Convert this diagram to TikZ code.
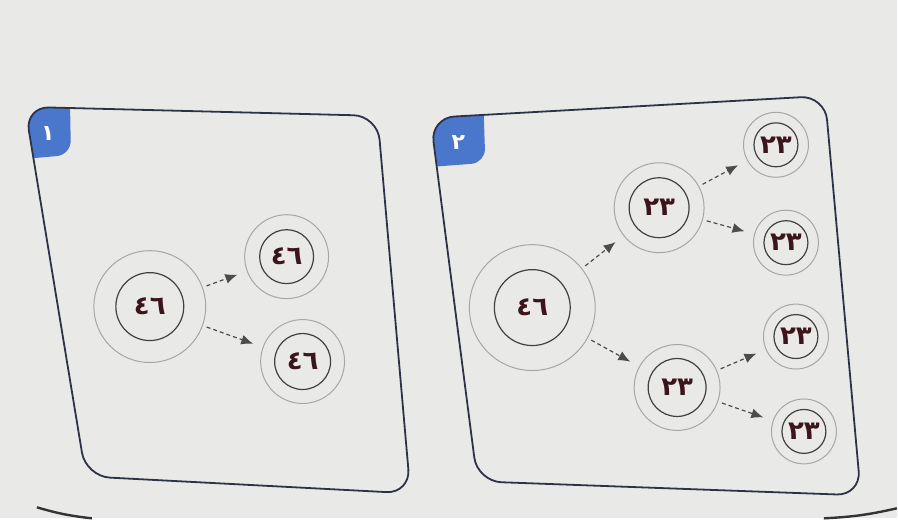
\documentclass[tikz,border=0pt]{standalone}
\usepackage{fontspec}
\setmainfont{DejaVu Sans}
\newfontfamily\arabicfont[Script=Arabic]{DejaVu Sans}
\usetikzlibrary{arrows.meta}

\definecolor{bgpaper}{RGB}{233,234,231}
\definecolor{tabblue}{RGB}{74,118,204}
\definecolor{boxline}{RGB}{45,50,70}
\definecolor{digitred}{RGB}{60,20,28}

\begin{document}
\begin{tikzpicture}[
      x=0.5pt, y=-0.5pt, % one unit = one pixel of the page photo
      outer ring/.style={circle, draw=gray!70, line width=0.5pt, inner sep=0pt},
      inner ring/.style={circle, draw=black!75, line width=0.6pt, inner sep=0pt,
                         text=digitred, font=\arabicfont\bfseries\fontsize{13}{15}\selectfont},
      split arrow/.style={draw=black!70, line width=0.6pt, dash pattern=on 2pt off 1.5pt,
                          -{Latex[length=6pt,width=5pt]}, shorten <=2pt, shorten >=5pt},
      panel/.style={draw=boxline, line width=0.9pt, rounded corners=12pt},
      tab label/.style={text=white, font=\arabicfont\bfseries\fontsize{11}{13}\selectfont}
    ]

    % Paper
    \fill[bgpaper] (0,0) rectangle (898,519);

    % Blue corner tabs
    \begin{scope}
      \clip[rounded corners=12pt] (25,107) -- (378,116) -- (411,494) -- (86,477) -- cycle;
      \fill[tabblue, rounded corners=7pt] (15,95) -- (70,96) -- (71,155) -- (15,160) -- cycle;
    \end{scope}
    \begin{scope}
      \clip[rounded corners=12pt] (431,118) -- (826,96) -- (862,496) -- (478,482) -- cycle;
      \fill[tabblue, rounded corners=7pt] (420,105) -- (484,102) -- (486,163) -- (420,168) -- cycle;
    \end{scope}
    \node[tab label] (t1) at (48,134) {١};
    \node[tab label] (t2) at (459,143) {٢};

    % Panel outlines
    \draw[panel] (25,107) -- (378,116) -- (411,494) -- (86,477) -- cycle;
    \draw[panel] (431,118) -- (826,96) -- (862,496) -- (478,482) -- cycle;

    % Panel 1: one cell into two
    \node[outer ring, minimum size=56pt] (a0) at (150,307) {};
    \node[inner ring, minimum size=34pt] (a0in) at (a0) {٤٦};
    \node[outer ring, minimum size=42pt] (a1) at (287,257) {};
    \node[inner ring, minimum size=27pt] (a1in) at (a1) {٤٦};
    \node[outer ring, minimum size=42pt] (a2) at (303,362) {};
    \node[inner ring, minimum size=28pt] (a2in) at (a2) {٤٦};

    \draw[split arrow] (a0) -- (a1);
    \draw[split arrow] (a0) -- (a2);

    % Panel 2: one cell into two, then four
    \node[outer ring, minimum size=63pt] (b0) at (533,308) {};
    \node[inner ring, minimum size=38pt] (b0in) at (b0) {٤٦};
    \node[outer ring, minimum size=45pt] (b1) at (660,208) {};
    \node[inner ring, minimum size=30pt] (b1in) at (b1) {٢٣};
    \node[outer ring, minimum size=43pt] (b2) at (678,388) {};
    \node[inner ring, minimum size=29pt] (b2in) at (b2) {٢٣};

    \foreach \leaf/\x/\y in {c1/777/145, c2/787/243, c3/797/337, c4/805/432} {
        \node[outer ring, minimum size=32.5pt] (\leaf) at (\x,\y) {};
        \node[inner ring, minimum size=22pt] (\leaf in) at (\leaf) {٢٣};
      }

    \draw[split arrow] (b0) -- (b1);
    \draw[split arrow] (b0) -- (b2);
    \draw[split arrow] (b1) -- (c1);
    \draw[split arrow] (b1) -- (c2);
    \draw[split arrow] (b2) -- (c3);
    \draw[split arrow] (b2) -- (c4);

    % Page edge at the bottom
    \draw[black!80, line width=1.2pt] (37,508) to[bend right=5] (92,519);
    \draw[black!80, line width=1.2pt] (825,519) to[bend right=5] (898,509);

  \end{tikzpicture}
\end{document}
